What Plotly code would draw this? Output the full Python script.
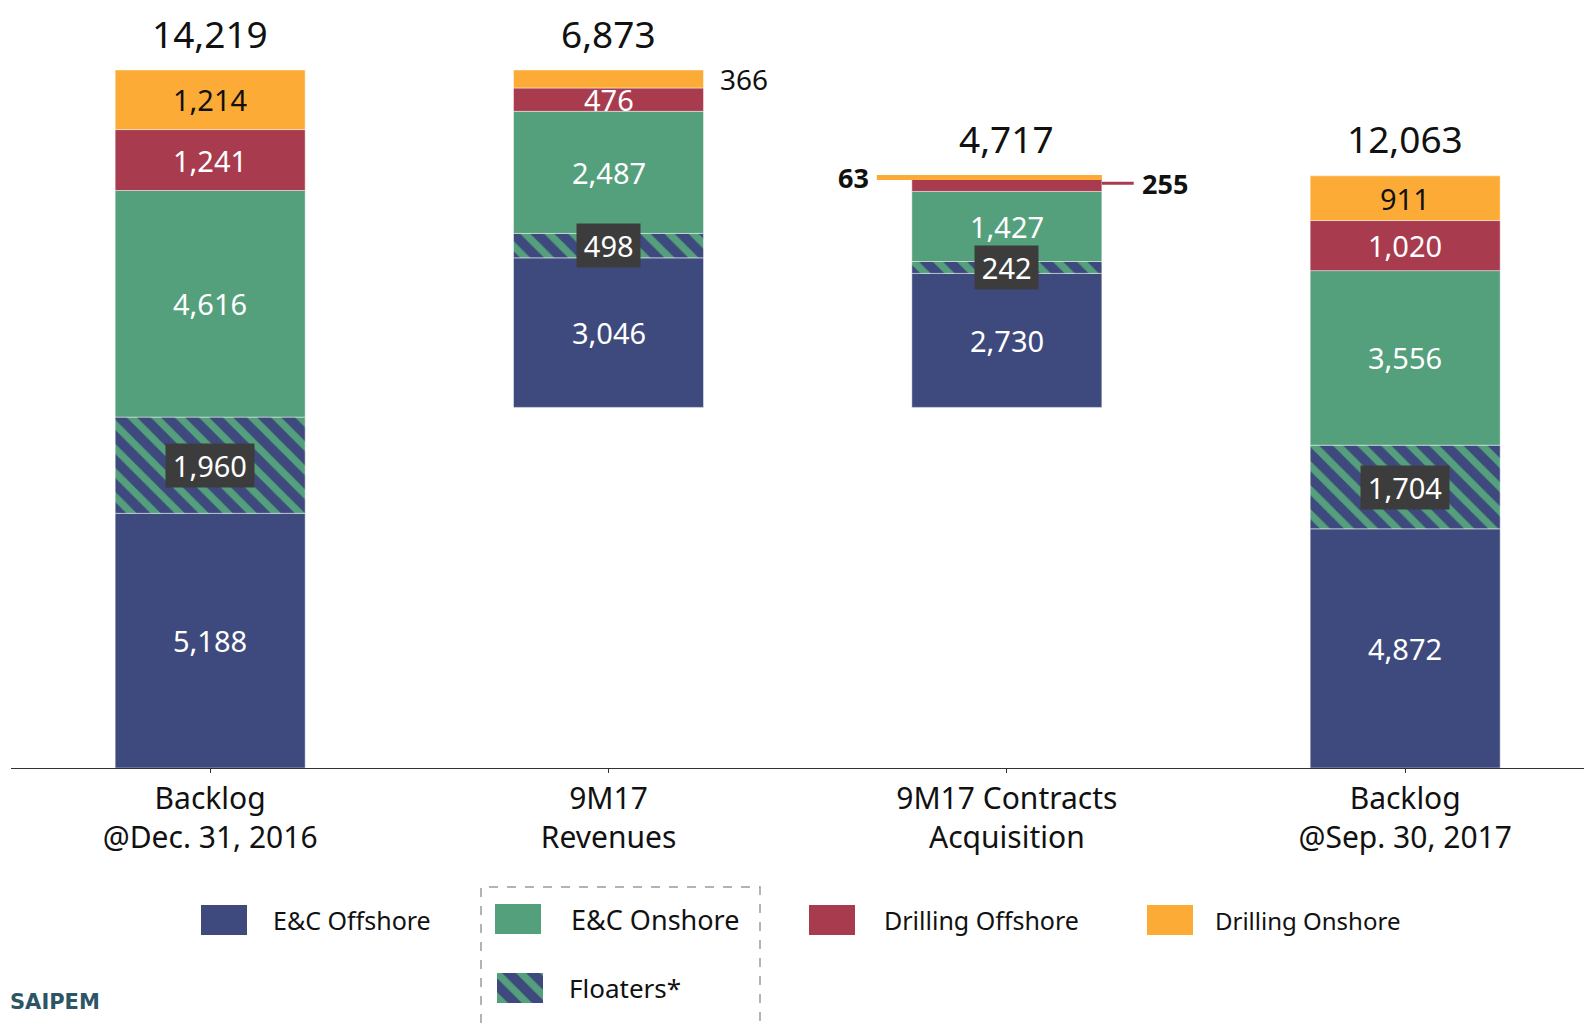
"""Saipem backlog walk: Dec 2016 backlog -> 9M17 revenues / acquisitions -> Sep 2017 backlog."""

import plotly.graph_objects as go

# the page body adds an 8px margin, so the figure is drawn 8px smaller and
# all reference pixel positions are shifted by that offset
OFF = 8
W, H = 1592 - OFF, 1023 - OFF

# --- data (EUR million) ---
categories = ["Backlog<br>@Dec. 31, 2016", "9M17<br>Revenues",
              "9M17 Contracts<br>Acquisition", "Backlog<br>@Sep. 30, 2017"]
ec_offshore = [5188, 3046, 2730, 4872]
floaters = [1960, 498, 242, 1704]
ec_onshore = [4616, 2487, 1427, 3556]
drilling_offshore = [1241, 476, 255, 1020]
drilling_onshore = [1214, 366, 63, 911]

series_names = ["E&C Offshore", "Floaters*", "E&C Onshore", "Drilling Offshore", "Drilling Onshore"]
series_values = [ec_offshore, floaters, ec_onshore, drilling_offshore, drilling_onshore]

BLUE = "#3E4A7E"
GREEN = "#55A07C"
RED = "#A93B4E"
ORANGE = "#FCAC36"
series_colors = [BLUE, BLUE, GREEN, RED, ORANGE]

FONT = "Noto Sans, Liberation Sans, sans-serif"
BAR_W = 0.477
HATCH = dict(shape="\\", fgcolor=GREEN, bgcolor=BLUE, fgopacity=1,
             size=17, solidity=0.42)


def px(x):
    return (x - OFF) / W


def py(y):
    return (H - (y - OFF)) / H


totals = [sum(s[i] for s in series_values) for i in range(len(categories))]
# waterfall: revenues hang from the opening backlog, acquisitions start where revenues end
bar_base = [0, totals[0] - totals[1], totals[0] - totals[1], 0]

fig = go.Figure()

# stacked segments with explicit bases
seg_bottom = {}
running = list(bar_base)
x_idx = list(range(len(categories)))
for name, vals, col in zip(series_names, series_values, series_colors):
    seg_bottom[name] = list(running)
    marker = dict(color=col, line=dict(width=1, color="rgba(255,255,255,0.45)"))
    if name == "Floaters*":
        marker["pattern"] = HATCH
    fig.add_trace(go.Bar(
        x=x_idx, y=vals, base=running, width=BAR_W, name=name,
        marker=marker, hoverinfo="skip", showlegend=False,
    ))
    running = [r + v for r, v in zip(running, vals)]

# segment labels
outside = {("Drilling Onshore", 1), ("Drilling Onshore", 2), ("Drilling Offshore", 2)}
for name, vals in zip(series_names, series_values):
    for i, v in enumerate(vals):
        if (name, i) in outside:
            continue
        mid = seg_bottom[name][i] + v / 2
        text = f"{v:,}"
        ann = dict(x=i, y=mid, showarrow=False,
                   font=dict(family=FONT, size=29,
                             color="#111111" if name == "Drilling Onshore" else "white"))
        if name == "Floaters*":
            text = f"\u2009{text}\u2009"
            ann.update(bgcolor="#3C3C3C", borderpad=2)
        fig.add_annotation(text=text, **ann)

# totals on top
for i, t in enumerate(totals):
    fig.add_annotation(x=i, y=bar_base[i] + t, text=f"{t:,}", showarrow=False,
                       yanchor="middle", yshift=37,
                       font=dict(family=FONT, size=37, color="#111111"))

# small segments labelled outside the bars
half = BAR_W / 2
mid_on1 = seg_bottom["Drilling Onshore"][1] + drilling_onshore[1] / 2
fig.add_annotation(x=1 + half, y=mid_on1, text=f"{drilling_onshore[1]:,}", showarrow=False,
                   xanchor="left", xshift=14, font=dict(family=FONT, size=28, color="#111111"))

mid_on2 = seg_bottom["Drilling Onshore"][2] + drilling_onshore[2] / 2
mid_off2 = seg_bottom["Drilling Offshore"][2] + drilling_offshore[2] / 2
fig.add_shape(type="line", x0=2 - half - 0.088, x1=2 + half, y0=mid_on2, y1=mid_on2,
              line=dict(color=ORANGE, width=5))
fig.add_shape(type="line", x0=2 + half, x1=2 + half + 0.08, y0=mid_off2 + 40, y1=mid_off2 + 40,
              line=dict(color=RED, width=3))
fig.add_annotation(x=2 - half - 0.088, y=mid_on2, text=f"<b>{drilling_onshore[2]:,}</b>",
                   showarrow=False, xanchor="right", xshift=-6,
                   font=dict(family=FONT, size=27, color="#111111"))
fig.add_annotation(x=2 + half + 0.08, y=mid_off2 + 40, text=f"<b>{drilling_offshore[2]:,}</b>",
                   showarrow=False, xanchor="left", xshift=6,
                   font=dict(family=FONT, size=27, color="#111111"))

# --- custom legend ---
legend_items = [
    ("E&C Offshore", BLUE, 201, 920, 25, 70),
    ("E&C Onshore", GREEN, 495, 919, 27, 74),
    ("Drilling Offshore", RED, 809, 920, 25, 73),
    ("Drilling Onshore", ORANGE, 1147, 920, 24, 66),
]
for label, col, x0, yc, fs, gap in legend_items:
    fig.add_shape(type="rect", xref="paper", yref="paper",
                  x0=px(x0), x1=px(x0 + 46), y0=py(yc - 15), y1=py(yc + 15),
                  fillcolor=col, line=dict(width=0))
    fig.add_annotation(xref="paper", yref="paper", x=px(x0 + gap), y=py(yc), text=label,
                       showarrow=False, xanchor="left", yanchor="middle",
                       font=dict(family=FONT, size=fs, color="#111111"))

# floaters swatch: tiny bar on its own axes so it can carry the hatch pattern
fig.add_trace(go.Bar(
    x=[0], y=[1], width=1, xaxis="x2", yaxis="y2", showlegend=False, hoverinfo="skip",
    marker=dict(color=BLUE, line=dict(width=0), pattern=HATCH),
))
fig.add_annotation(xref="paper", yref="paper", x=px(567), y=py(988), text="Floaters*",
                   showarrow=False, xanchor="left", yanchor="middle",
                   font=dict(family=FONT, size=26, color="#111111"))
fig.add_shape(type="rect", xref="paper", yref="paper",
              x0=px(481), x1=px(760), y0=py(1030), y1=py(887),
              line=dict(color="#9A9A9A", width=1.5, dash="dash"), fillcolor="rgba(0,0,0,0)")

# logo text at the bottom-left corner of the slide
fig.add_annotation(xref="paper", yref="paper", x=0, y=py(1002), text="<b>SAIPEM</b>",
                   showarrow=False, xanchor="left", yanchor="middle",
                   font=dict(family="DejaVu Sans", size=21, color="#2C5566"))

fig.update_layout(
    width=W, height=H,
    barmode="overlay",
    showlegend=False,
    margin=dict(l=0, r=0, t=0, b=0),
    plot_bgcolor="white", paper_bgcolor="white",
    font=dict(family=FONT, color="#111111"),
    xaxis=dict(
        domain=[px(11), 1], range=[-0.5, 3.469],
        tickmode="array", tickvals=x_idx, ticktext=categories,
        tickson="boundaries", ticks="outside", ticklen=4, tickcolor="#333333",
        showline=True, linecolor="#333333", linewidth=1.3,
        showgrid=False, zeroline=False,
        tickfont=dict(family=FONT, size=30, color="#111111"),
    ),
    yaxis=dict(
        domain=[py(768), 1], range=[0, 15482],
        visible=False, showgrid=False, zeroline=False,
    ),
    xaxis2=dict(domain=[px(497), px(543)], range=[-0.5, 0.5], visible=False, anchor="y2"),
    yaxis2=dict(domain=[py(1003), py(973)], range=[0, 1], visible=False, anchor="x2"),
)

fig.write_html("out.html")
